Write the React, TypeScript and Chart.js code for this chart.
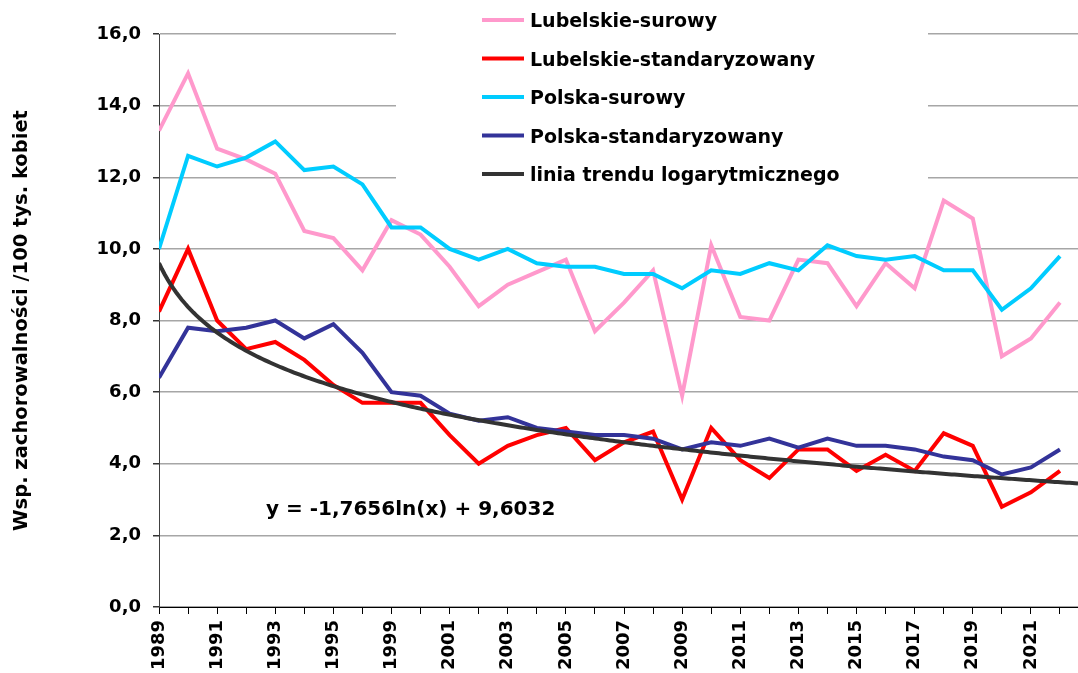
import React, { useEffect, useRef } from "react";
import { Chart, registerables } from "chart.js";

Chart.register(...registerables);

// Categories (one year is missing between 1995 and 1999 in the source series)
const years = [
  "1989", "1990", "1991", "1992", "1993", "1994", "1995", "1997",
  "1999", "2000", "2001", "2002", "2003", "2004", "2005", "2006",
  "2007", "2008", "2009", "2010", "2011", "2012", "2013", "2014",
  "2015", "2016", "2017", "2018", "2019", "2020", "2021", "2022",
];

const lubelskieSurowy = [
  13.3, 14.9, 12.8, 12.5, 12.1, 10.5, 10.3, 9.4, 10.8, 10.4, 9.5, 8.4, 9.0, 9.35, 9.7, 7.7,
  8.5, 9.4, 5.9, 10.1, 8.1, 8.0, 9.7, 9.6, 8.4, 9.6, 8.9, 11.35, 10.85, 7.0, 7.5, 8.5,
];
const lubelskieStand = [
  8.25, 10.0, 8.0, 7.2, 7.4, 6.9, 6.2, 5.7, 5.7, 5.7, 4.8, 4.0, 4.5, 4.8, 5.0, 4.1,
  4.6, 4.9, 3.0, 5.0, 4.1, 3.6, 4.4, 4.4, 3.8, 4.25, 3.8, 4.85, 4.5, 2.8, 3.2, 3.8,
];
const polskaSurowy = [
  10.0, 12.6, 12.3, 12.55, 13.0, 12.2, 12.3, 11.8, 10.6, 10.6, 10.0, 9.7, 10.0, 9.6, 9.5, 9.5,
  9.3, 9.3, 8.9, 9.4, 9.3, 9.6, 9.4, 10.1, 9.8, 9.7, 9.8, 9.4, 9.4, 8.3, 8.9, 9.8,
];
const polskaStand = [
  6.4, 7.8, 7.7, 7.8, 8.0, 7.5, 7.9, 7.1, 6.0, 5.9, 5.4, 5.2, 5.3, 5.0, 4.9, 4.8,
  4.8, 4.7, 4.4, 4.6, 4.5, 4.7, 4.45, 4.7, 4.5, 4.5, 4.4, 4.2, 4.1, 3.7, 3.9, 4.4,
];

// Logarithmic trend line as printed on the chart: y = -1,7656 ln(x) + 9,6032
const TREND_A = -1.7656;
const TREND_B = 9.6032;
const TREND_LABEL = "y = -1,7656ln(x) + 9,6032";

const seriesNames = [
  "Lubelskie-surowy",
  "Lubelskie-standaryzowany",
  "Polska-surowy",
  "Polska-standaryzowany",
  "linia trendu logarytmicznego",
];
const seriesColors = ["#FF99CC", "#FF0000", "#00CCFF", "#333399", "#333333"];

const yTicks = [0, 2, 4, 6, 8, 10, 12, 14, 16];
const yTitle = "Wsp. zachorowalności /100 tys. kobiet";

const X_MAX = 31.62;
const FONT = "'DejaVu Sans', Verdana, sans-serif";

export default function App() {
  const ref = useRef<HTMLCanvasElement>(null);

  useEffect(() => {
    if (!ref.current) return;
    const toPts = (arr: number[]) => arr.map((v, i) => ({ x: i, y: v }));
    const trendPts: { x: number; y: number }[] = [];
    for (let k = 0; k <= 320; k++) {
      const x = Math.min((k / 320) * X_MAX, X_MAX);
      trendPts.push({ x, y: TREND_A * Math.log(x + 1) + TREND_B });
    }
    const allSeries = [lubelskieSurowy, lubelskieStand, polskaSurowy, polskaStand];

    const overlay = {
      id: "overlay",
      afterDraw(chart: any) {
        const ctx = chart.ctx;
        ctx.save();
        ctx.fillStyle = "#ffffff";
        ctx.fillRect(396, 0, 532, 198);
        const rows = [20, 58.5, 97, 135.5, 174];
        ctx.font = `bold 19px ${FONT}`;
        ctx.textBaseline = "alphabetic";
        seriesNames.forEach((name, i) => {
          ctx.strokeStyle = seriesColors[i];
          ctx.lineWidth = 4;
          ctx.beginPath();
          ctx.moveTo(482, rows[i]);
          ctx.lineTo(524, rows[i]);
          ctx.stroke();
          ctx.fillStyle = "#000";
          ctx.fillText(name, 530, rows[i] + 7);
        });
        ctx.font = `bold 20px ${FONT}`;
        ctx.fillStyle = "#000";
        ctx.fillText(TREND_LABEL, 266, 515);
        ctx.restore();
      },
    };

    const chart = new Chart(ref.current, {
      type: "line",
      data: {
        datasets: [
          ...allSeries.map((arr, i) => ({
            label: seriesNames[i],
            data: toPts(arr),
            borderColor: seriesColors[i],
            backgroundColor: seriesColors[i],
            borderWidth: 4,
            pointRadius: 0,
            tension: 0,
            order: 4 - i,
          })),
          {
            label: seriesNames[4],
            data: trendPts,
            borderColor: seriesColors[4],
            backgroundColor: seriesColors[4],
            borderWidth: 4,
            pointRadius: 0,
            tension: 0,
            order: -1,
          },
        ],
      },
      options: {
        animation: false,
        responsive: false,
        maintainAspectRatio: false,
        layout: { padding: { top: 34, left: 0, right: 0, bottom: 0 } },
        plugins: { legend: { display: false }, tooltip: { enabled: false } },
        scales: {
          x: {
            type: "linear",
            min: 0,
            max: X_MAX,
            afterFit: (s: any) => {
              s.height = 66;
              s.paddingRight = 0;
              s.paddingLeft = 0;
            },
            afterBuildTicks: (s: any) => {
              s.ticks = years.map((_, i) => ({ value: i }));
            },
            ticks: {
              autoSkip: false,
              maxRotation: 90,
              minRotation: 90,
              padding: 6,
              color: "#000",
              font: { family: FONT, weight: "bold", size: 18 },
              callback: (v: any) => {
                const i = Math.round(Number(v));
                return i % 2 === 0 && years[i] ? (i === 8 ? "1999" : years[i]) : "";
              },
            },
            grid: {
              display: true,
              drawOnChartArea: false,
              drawTicks: true,
              tickLength: 7,
              tickColor: "#000",
            },
            border: { display: true, color: "#000", width: 1 },
          },
          y: {
            min: 0,
            max: 16,
            afterFit: (s: any) => {
              s.width = 159;
            },
            afterBuildTicks: (s: any) => {
              s.ticks = yTicks.map((v) => ({ value: v }));
            },
            ticks: {
              padding: 12,
              color: "#000",
              font: { family: FONT, weight: "bold", size: 18 },
              callback: (v: any) => Number(v).toFixed(1).replace(".", ","),
            },
            grid: {
              color: "#a6a6a6",
              lineWidth: 1.5,
              drawTicks: true,
              tickLength: 6,
              tickColor: "#333",
            },
            border: { display: true, color: "#404040", width: 1 },
            title: {
              display: true,
              text: yTitle,
              color: "#000",
              font: { family: FONT, weight: "bold", size: 19.5 },
              padding: { top: 10, bottom: 0 },
            },
          },
        },
      },
      plugins: [overlay],
    } as any);
    return () => chart.destroy();
  }, []);

  return (
    <div style={{ position: "absolute", left: 0, top: 0, width: 1078, height: 673, background: "#fff" }}>
      <canvas ref={ref} width={1078} height={673} style={{ width: 1078, height: 673 }} />
    </div>
  );
}
